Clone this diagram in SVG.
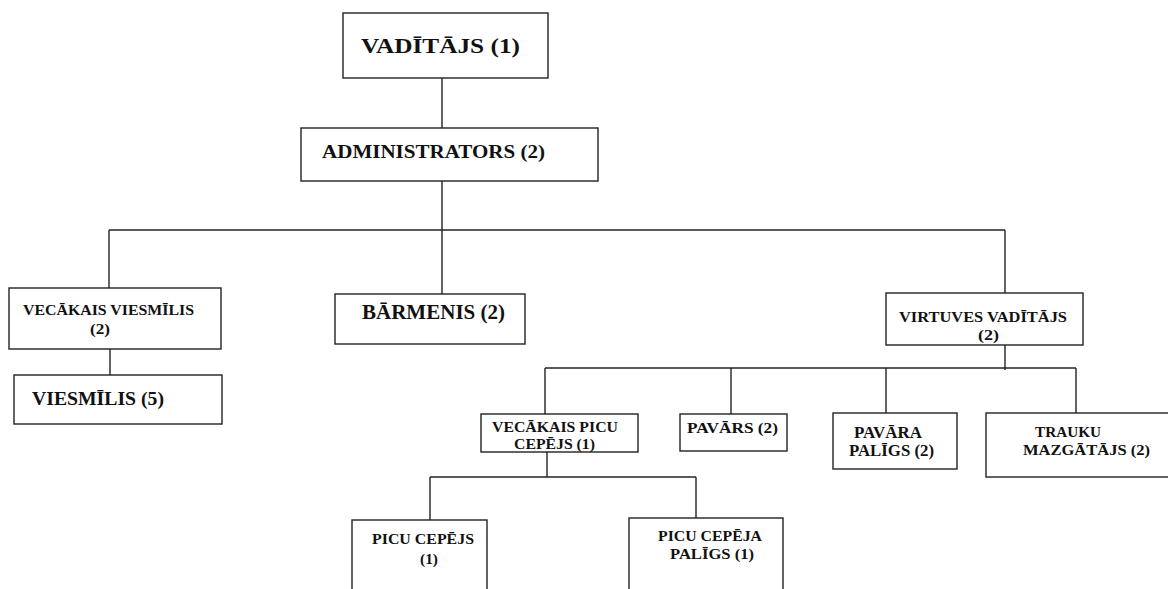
<svg xmlns="http://www.w3.org/2000/svg" width="1168" height="589" viewBox="0 0 1168 589">
<style>
.box{fill:#fff;stroke:#222;stroke-width:1.4}
.ln{fill:none;stroke:#222;stroke-width:1.4}
text{font-family:"Liberation Serif","Times New Roman",serif;font-weight:bold;fill:#111}
</style>
<rect width="1168" height="589" fill="#fff"/>
<g id="connectors">
<path class="ln" d="M442,78V128"/>
<path class="ln" d="M442,181V294"/>
<path class="ln" d="M109,230H1005"/>
<path class="ln" d="M109,230V288"/>
<path class="ln" d="M1005,230V293"/>
<path class="ln" d="M110,349V375"/>
<path class="ln" d="M1005,345V370"/>
<path class="ln" d="M545,368H1076"/>
<path class="ln" d="M545,368V414"/>
<path class="ln" d="M731,368V414"/>
<path class="ln" d="M886,368V413"/>
<path class="ln" d="M1076,368V413"/>
<path class="ln" d="M547,452V477"/>
<path class="ln" d="M430,477H696"/>
<path class="ln" d="M430,477V520"/>
<path class="ln" d="M696,477V518"/>
</g>
<g id="vaditajs">
<rect class="box" x="343" y="13" width="205" height="65"/>
<text x="361" y="53" font-size="21" textLength="159" lengthAdjust="spacingAndGlyphs">VADĪTĀJS (1)</text>
</g>
<g id="administrators">
<rect class="box" x="301" y="128" width="297" height="53"/>
<text x="322" y="158" font-size="19" textLength="223" lengthAdjust="spacingAndGlyphs">ADMINISTRATORS (2)</text>
</g>
<g id="vecakais-viesmilis">
<rect class="box" x="9" y="288" width="212" height="61"/>
<text x="23" y="315" font-size="15" textLength="171" lengthAdjust="spacingAndGlyphs">VECĀKAIS VIESMĪLIS</text>
<text x="90" y="334" font-size="15" textLength="20" lengthAdjust="spacingAndGlyphs">(2)</text>
</g>
<g id="viesmilis">
<rect class="box" x="14" y="375" width="208" height="49"/>
<text x="32" y="405" font-size="19.5" textLength="132" lengthAdjust="spacingAndGlyphs">VIESMĪLIS (5)</text>
</g>
<g id="barmenis">
<rect class="box" x="335" y="294" width="190" height="50"/>
<text x="362" y="319" font-size="21" textLength="143" lengthAdjust="spacingAndGlyphs">BĀRMENIS (2)</text>
</g>
<g id="virtuves-vaditajs">
<rect class="box" x="886" y="293" width="197" height="52"/>
<text x="899" y="322" font-size="15" textLength="168" lengthAdjust="spacingAndGlyphs">VIRTUVES VADĪTĀJS</text>
<text x="978" y="340" font-size="15" textLength="21" lengthAdjust="spacingAndGlyphs">(2)</text>
</g>
<g id="vecakais-picu-cepejs">
<rect class="box" x="481" y="414" width="157" height="38"/>
<text x="492" y="432" font-size="15" textLength="126" lengthAdjust="spacingAndGlyphs">VECĀKAIS PICU</text>
<text x="514" y="449" font-size="15" textLength="81" lengthAdjust="spacingAndGlyphs">CEPĒJS (1)</text>
</g>
<g id="pavars">
<rect class="box" x="680" y="414" width="107" height="37"/>
<text x="687" y="433" font-size="15" textLength="91" lengthAdjust="spacingAndGlyphs">PAVĀRS (2)</text>
</g>
<g id="pavara-paligs">
<rect class="box" x="833" y="413" width="124" height="56"/>
<text x="854" y="438" font-size="16" textLength="68" lengthAdjust="spacingAndGlyphs">PAVĀRA</text>
<text x="849" y="456" font-size="16" textLength="85" lengthAdjust="spacingAndGlyphs">PALĪGS (2)</text>
</g>
<g id="trauku-mazgatajs">
<rect class="box" x="986" y="413" width="185" height="64"/>
<text x="1035" y="437" font-size="15" textLength="66" lengthAdjust="spacingAndGlyphs">TRAUKU</text>
<text x="1023" y="455" font-size="15" textLength="127" lengthAdjust="spacingAndGlyphs">MAZGĀTĀJS (2)</text>
</g>
<g id="picu-cepejs">
<rect class="box" x="352" y="520" width="135" height="80"/>
<text x="372" y="544" font-size="15" textLength="102" lengthAdjust="spacingAndGlyphs">PICU CEPĒJS</text>
<text x="420" y="564" font-size="15" textLength="18" lengthAdjust="spacingAndGlyphs">(1)</text>
</g>
<g id="picu-cepeja-paligs">
<rect class="box" x="629" y="518" width="154" height="82"/>
<text x="658" y="541" font-size="15" textLength="104" lengthAdjust="spacingAndGlyphs">PICU CEPĒJA</text>
<text x="670" y="559" font-size="15" textLength="84" lengthAdjust="spacingAndGlyphs">PALĪGS (1)</text>
</g>
</svg>
